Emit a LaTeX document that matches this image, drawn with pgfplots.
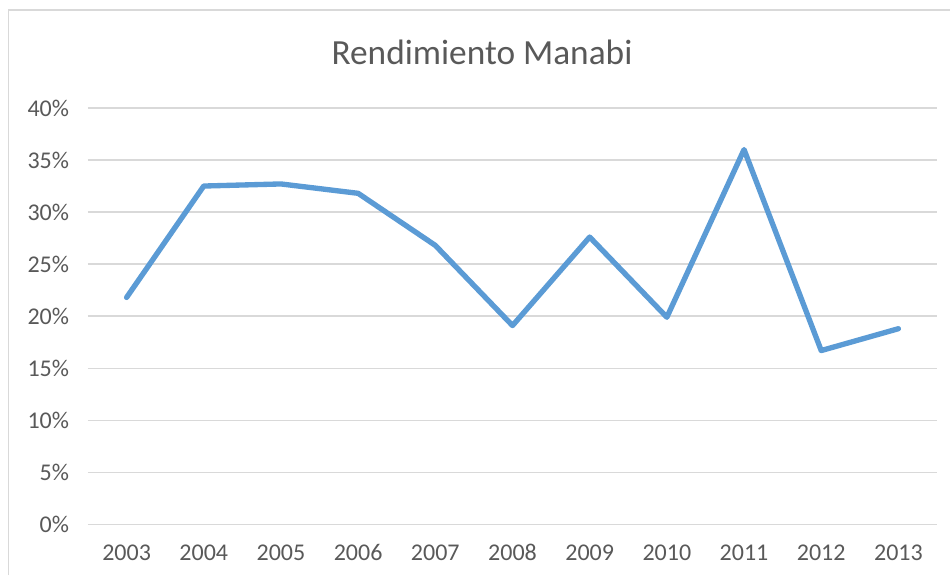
\documentclass[border=0pt]{standalone}
\usepackage{pgfplots}
\pgfplotsset{compat=1.18}
\usepackage{fontspec}
\setmainfont{Carlito}
\definecolor{linec}{HTML}{5B9BD5}
\definecolor{txtc}{HTML}{595959}
\definecolor{gridc}{HTML}{D9D9D9}
\begin{document}
\begin{tikzpicture}
\path[use as bounding box] (0pt,0pt) rectangle (712.5pt,431.25pt);
\draw[gridc,line width=1.1pt] (6.375pt,0pt) -- (6.375pt,423.75pt) -- (714pt,423.75pt);
\node[anchor=base,text=txtc,font=\fontsize{26.5}{30}\selectfont] at (361.5pt,383pt) {Rendimiento Manabi};
\begin{axis}[
  at={(66pt,37.9pt)}, anchor=south west,
  scale only axis,
  width=636.75pt, height=312.4pt,
  xmin=-0.5, xmax=10.5,
  ymin=0, ymax=40,
  xtick={0,...,10},
  xticklabels={2003,2004,2005,2006,2007,2008,2009,2010,2011,2012,2013},
  ytick={0,5,...,40},
  yticklabels={0\%,5\%,10\%,15\%,20\%,25\%,30\%,35\%,40\%},
  axis line style={draw=none},
  major tick length=0pt,
  ymajorgrids,
  grid style={gridc,line width=1.1pt},
  tick label style={text=txtc,font=\fontsize{18}{20}\selectfont},
  xticklabel style={yshift=-11.5pt},
  yticklabel style={xshift=-10.7pt},
  clip=false,
]
\addplot[linec,line width=4pt,line join=round,line cap=round] coordinates {
(0,21.8) (1,32.5) (2,32.7) (3,31.8) (4,26.8) (5,19.1) (6,27.6) (7,19.9) (8,36.0) (9,16.7) (10,18.8)
};
\end{axis}
\end{tikzpicture}
\end{document}
